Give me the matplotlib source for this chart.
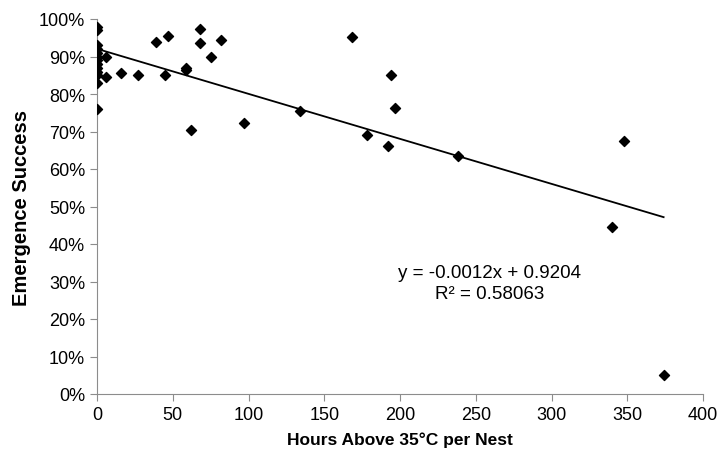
import matplotlib.pyplot as plt
import numpy as np
from matplotlib.ticker import PercentFormatter

plt.rcParams['font.family'] = ['Liberation Sans', 'DejaVu Sans']

# hours above 35C per nest, emergence success (fraction)
hours = [0, 0, 0, 0, 0, 0, 0, 0, 0, 0, 0, 0, 0,
         6, 6, 16, 27, 39, 47, 45, 59, 59, 62, 68, 68, 75, 82, 97,
         134, 168, 178, 192, 194, 197, 238, 340, 348, 374]
success = [0.98, 0.97, 0.93, 0.92, 0.91, 0.90, 0.89, 0.88, 0.87, 0.86, 0.85, 0.83, 0.76,
           0.90, 0.845, 0.856, 0.85, 0.94, 0.955, 0.85, 0.87, 0.864, 0.704, 0.973, 0.936, 0.90, 0.944, 0.723,
           0.755, 0.951, 0.692, 0.662, 0.85, 0.764, 0.634, 0.445, 0.675, 0.05]

slope = -0.0012
intercept = 0.9204
r2 = 0.58063

fig = plt.figure(figsize=(7.18, 4.52), dpi=100)
ax = fig.add_axes([97 / 718, 57 / 452, 606 / 718, 375 / 452])

ax.scatter(hours, success, marker='D', s=26, color='black', zorder=3)

xs = np.array([0, max(hours)])
ax.plot(xs, slope * xs + intercept, color='black', lw=1.3)

# trendline label, placed in figure pixels
ax.text(490 / 718, 1 - 284 / 452, f"y = {slope}x + {intercept}\nR² = {r2}",
        transform=fig.transFigure, ha='center', va='center', fontsize=13.5,
        linespacing=1.3)

ax.set_xlim(0, 400)
ax.set_ylim(0, 1.0)
ax.set_xticks(np.arange(0, 401, 50))
ax.set_yticks(np.arange(0, 1.01, 0.1))
ax.yaxis.set_major_formatter(PercentFormatter(1.0, decimals=0))

for s in ['top', 'right']:
    ax.spines[s].set_visible(False)
for s in ['left', 'bottom']:
    ax.spines[s].set_color('#8c8c8c')
ax.tick_params(color='#8c8c8c', length=5, labelsize=13)
ax.tick_params(axis='x', pad=4)

ax.set_xlabel('Hours Above 35°C per Nest', fontsize=12.5, fontweight='bold', labelpad=6)
ax.set_ylabel('Emergence Success', fontsize=14.5, fontweight='bold', labelpad=6)

fig.savefig('out.png', dpi=100)
